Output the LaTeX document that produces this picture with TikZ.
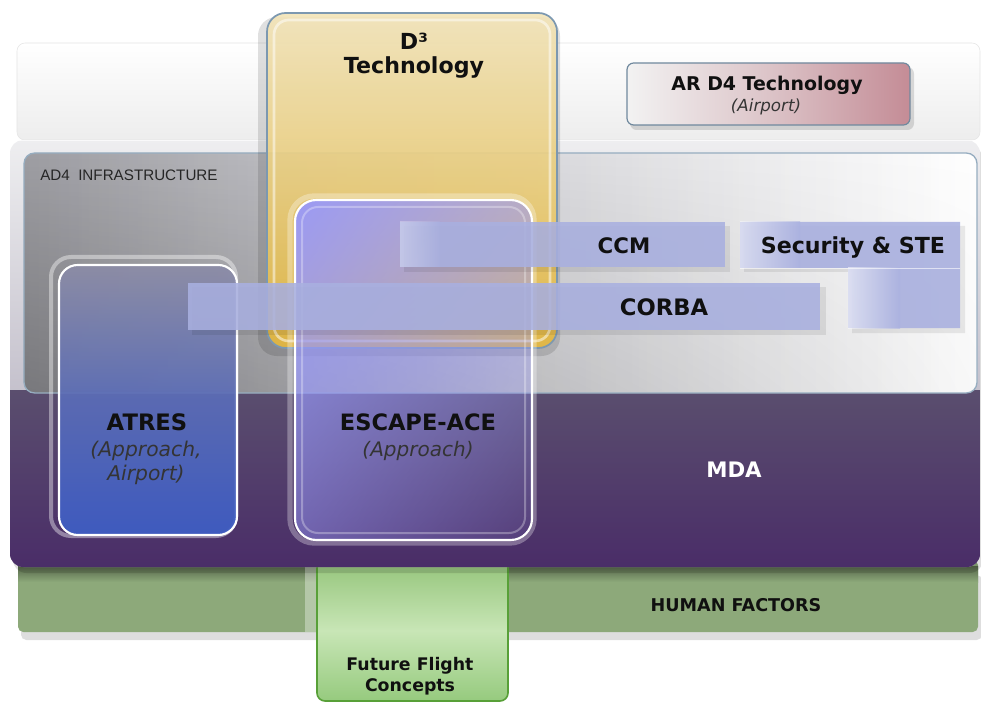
\documentclass[tikz,border=0pt]{standalone}
\usepackage{fontspec}
\usetikzlibrary{shadings,fadings}
\setmainfont{DejaVu Sans}
\newfontfamily\arialf{Liberation Sans}
\definecolor{purpD}{HTML}{4A2D68}
\definecolor{purpT}{HTML}{5A4E6E}
\definecolor{outerT}{HTML}{EEEEF0}
\definecolor{outerB}{HTML}{A8A2B4}
\definecolor{hfgreen}{HTML}{8DA97A}
\definecolor{ffA}{HTML}{94C47A}
\definecolor{ffM}{HTML}{C8E6B6}
\definecolor{ffB}{HTML}{96CA7E}
\definecolor{ffborder}{HTML}{58A038}
\definecolor{goldT}{HTML}{F2E4B8}
\definecolor{goldM}{HTML}{ECCF7C}
\definecolor{goldB}{HTML}{E6B83C}
\definecolor{steel}{HTML}{7C98B0}
\definecolor{rose}{HTML}{C48C96}
\definecolor{roseM}{HTML}{DCC4C8}
\definecolor{barblue}{HTML}{A9B0E0}
\definecolor{atresT}{HTML}{8C8CA6}
\definecolor{atresM}{HTML}{5A6CB8}
\definecolor{atresB}{HTML}{3D5EC6}
\definecolor{escblue}{HTML}{9898FA}
\definecolor{infraL}{HTML}{B0B0B6}
\definecolor{infraM}{HTML}{E0E0E4}
\definecolor{txt}{HTML}{101010}
\tikzfading[name=escQ, upper left=transparent!8, upper right=transparent!45, lower left=transparent!55, lower right=transparent!92]
\tikzfading[name=infraQ, upper left=transparent!100, upper right=transparent!100, lower left=transparent!78, lower right=transparent!100]
\tikzset{
  bl/.style={font=\bfseries\fontsize{#1}{#1}\selectfont, anchor=base, inner sep=0pt, text=txt},
  it/.style={font=\itshape\fontsize{#1}{#1}\selectfont, anchor=base, inner sep=0pt, text=txt!85},
  barbox/.style={fill=barblue, fill opacity=0.88},
  shad/.style={fill=black, opacity=0.13}
}
\begin{document}
\begin{tikzpicture}[x=0.75pt,y=-0.75pt]
\useasboundingbox (0,0) rectangle (981,702);
\fill[white] (0,0) rectangle (981,702);
% top band
\shade[rounded corners=6, top color=white, bottom color=black!7] (17,43) rectangle (980,140);
\draw[black!10, rounded corners=6] (17,43) rectangle (980,140);
% human factors
\fill[shad, rounded corners=4] (21,575) rectangle (982,640);
\fill[hfgreen, rounded corners=4] (18,560) rectangle (978,632);
\shade[top color=hfgreen!60!black, bottom color=hfgreen] (18,566) rectangle (978,582);
% future flight concepts
\fill[white, opacity=0.35] (305,567) rectangle (317,632);
\shade[rounded corners=6, top color=ffA, bottom color=ffB, middle color=ffM] (317,560) rectangle (508,701);
\draw[ffborder, line width=1.2, rounded corners=6] (317,560) rectangle (508,701);
% MDA outer box
\fill[shad, rounded corners=10] (13,146) rectangle (983,573);
\shade[rounded corners=10, top color=outerT, bottom color=outerB] (10,140) rectangle (980,567);
\shade[top color=purpT, bottom color=purpD] (10,390) -- (980,390) [rounded corners=10] -- (980,567) -- (10,567) [sharp corners] -- cycle;
\draw[white, opacity=0.7] (10,140.5) -- (980,140.5);
% AD4 infrastructure
\shade[rounded corners=8, left color=infraL, right color=white, middle color=infraM] (24,153) rectangle (977,393);
\shade[rounded corners=8, left color=black, right color=white, opacity=0.10] (24,153) rectangle (977,393);
\fill[black, path fading=infraQ, rounded corners=8] (24,153) rectangle (977,393);
\draw[steel!80, line width=1, rounded corners=8] (24,153) rectangle (977,393);
% D3 technology
\fill[shad, opacity=0.12, rounded corners=14] (258,17) rectangle (560,356);
\shade[rounded corners=14, top color=goldT, bottom color=goldB, middle color=goldM, opacity=0.9] (267,13) rectangle (557,348);
\draw[steel, line width=1.3, rounded corners=14] (267,13) rectangle (557,348);
\draw[white, opacity=0.5, line width=2, rounded corners=11] (274,20) rectangle (550,341);
% AR D4 technology
\fill[shad, rounded corners=5] (630,67) rectangle (914,130);
\shade[rounded corners=5, left color=white!95!black, right color=rose, middle color=roseM] (627,63) rectangle (910,125);
\draw[steel!90!black, line width=0.9, rounded corners=5] (627,63) rectangle (910,125);
% ATRES
\draw[white, opacity=0.4, line width=3, rounded corners=15] (51,257) rectangle (236,536);
\shade[rounded corners=14, top color=atresT, bottom color=atresB, middle color=atresM, opacity=0.92] (59,265) rectangle (237,535);
\draw[white, line width=1.6, rounded corners=14] (59,265) rectangle (237,535);
% ESCAPE-ACE
\draw[white, opacity=0.3, line width=4, rounded corners=18] (290,196) rectangle (534,543);
\fill[escblue, path fading=escQ, rounded corners=16] (295,200) rectangle (532,540);
\draw[white, line width=1.6, rounded corners=16] (295,200) rectangle (532,540);
\draw[white, opacity=0.3, line width=1.5, rounded corners=12] (302,207) rectangle (525,533);
% bars
\fill[shad, opacity=0.08] (404,226) rectangle (730,272);
\fill[barbox] (400,222) rectangle (725,267);
\shade[left color=white, right color=barblue, opacity=0.3] (400,222) rectangle (440,267);
\fill[shad, opacity=0.08] (744,226) -- (965,226) -- (965,333) -- (852,333) -- (852,272) -- (744,272) -- cycle;
\fill[barbox] (740,222) -- (960,222) -- (960,328) -- (848,328) -- (848,268) -- (740,268) -- cycle;
\shade[left color=white, right color=barblue, opacity=0.5] (740,222) rectangle (800,268);
\shade[left color=white, right color=barblue, opacity=0.55] (848,268) rectangle (900,328);
\draw[white, opacity=0.6] (740,268) -- (960,268);
\fill[shad, opacity=0.08] (192,287) rectangle (826,335);
\fill[barbox] (188,283) rectangle (820,330);
% texts
\node[bl=16.6] (d3) at (414,50) {D³};
\node[bl=16.6] (d3t) at (414,74) {Technology};
\node[bl=14.2] (ard4) at (767,91) {AR D4 Technology};
\node[it=12.5] (ard4a) at (766,112) {(Airport)};
\node[font=\arialf\fontsize{11.4}{12}\selectfont, anchor=base west, inner sep=0pt, text=black!85] (infra) at (40,181) {AD4\ \ INFRASTRUCTURE};
\node[bl=16] (ccm) at (624,253) {CCM};
\node[bl=16.6] (sec) at (853,253) {Security \& STE};
\node[bl=17] (corba) at (664,315) {CORBA};
\node[bl=17] (atres) at (147,430) {ATRES};
\node[it=15.2] (atresa) at (146,456) {(Approach,};
\node[it=15.2] (atresb) at (146,480) {Airport)};
\node[bl=16.9] (esc) at (418,430) {ESCAPE-ACE};
\node[it=15] (esca) at (418,456) {(Approach)};
\node[bl=16, text=white] (mda) at (734,477) {MDA};
\node[bl=13.2] (hf) at (736,611) {HUMAN FACTORS};
\node[bl=13] (ffc1) at (410,670) {Future Flight};
\node[bl=13] (ffc2) at (410,691) {Concepts};
\end{tikzpicture}
\end{document}
